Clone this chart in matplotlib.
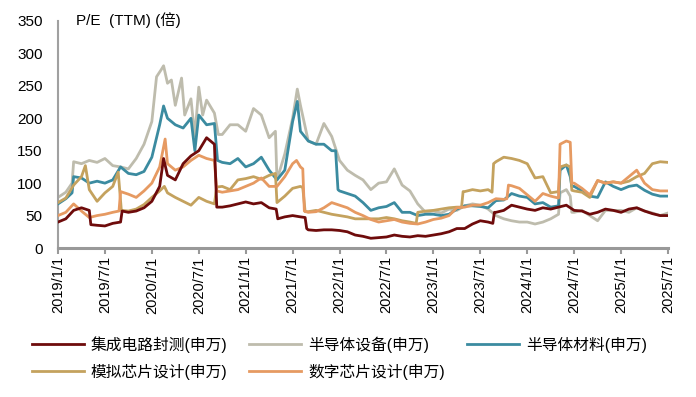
import matplotlib
matplotlib.use('Agg')
import matplotlib.pyplot as plt

plt.rcParams['font.family'] = ['Liberation Sans', 'Noto Sans CJK SC']

# x = months since 2019/1/1
tick_labels = ['2019/1/1', '2019/7/1', '2020/1/1', '2020/7/1', '2021/1/1', '2021/7/1', '2022/1/1',
               '2022/7/1', '2023/1/1', '2023/7/1', '2024/1/1', '2024/7/1', '2025/1/1', '2025/7/1']

red_t = [0, 1, 2, 3, 4, 4.2, 5, 6, 7, 8, 8.2, 9, 10, 11, 12, 13, 13.5, 14, 15, 16, 17, 18, 19, 20, 20.3,
         21, 22, 23, 24, 25, 26, 27, 27.9, 28.1, 29, 30, 31, 31.6, 31.8, 32, 33, 34, 35, 36, 37, 38, 39,
         40, 41, 42, 43, 44, 45, 46, 47, 48, 49, 50, 51, 52, 53, 54, 55, 55.6, 55.8, 56, 57, 58, 59, 60,
         61, 62, 63, 64, 65, 66, 67, 68, 69, 70, 71, 72, 73, 74, 75, 76, 77, 78]
red_v = [40, 45, 58, 62, 58, 36, 35, 34, 38, 40, 57, 55, 57, 62, 72, 95, 138, 112, 105, 130, 142, 150, 170, 160, 63,
         63, 65, 68, 71, 68, 70, 62, 60, 45, 48, 50, 48, 47, 30, 28, 27, 28, 28, 27, 25, 20, 18,
         15, 16, 17, 20, 18, 17, 19, 18, 20, 22, 25, 30, 30, 37, 42, 40, 38, 55, 55, 58, 66, 63, 60,
         58, 62, 60, 63, 66, 58, 57, 52, 55, 60, 58, 55, 60, 62, 57, 53, 50, 50]

gray_t = [0, 1, 1.8, 2, 3, 4, 5, 6, 7, 8, 9, 10, 11, 12, 12.6, 13.2, 13.5, 14, 14.5, 15, 15.8, 16.2, 17, 17.5,
          18, 18.5, 19, 20, 20.5, 21, 22, 23, 24, 25, 26, 27, 27.8, 28, 29, 30, 30.6, 31, 32, 33, 34, 35,
          36, 37, 38, 39, 40, 41, 42, 43, 44, 45, 46, 47, 48, 49, 50, 51, 52, 53, 54, 55, 56, 57, 58, 59,
          60, 61, 62, 63, 64, 64.2, 65, 65.5, 65.7, 66, 67, 68, 69, 70, 71, 72, 73, 74, 75, 76, 77, 78]
gray_v = [78, 86, 100, 133, 130, 135, 132, 138, 127, 125, 122, 138, 160, 195, 264, 275, 281, 254, 259, 220, 262, 205, 230, 172,
          248, 205, 228, 208, 175, 175, 190, 190, 180, 215, 205, 170, 180, 105, 145, 200, 245, 220, 165, 160, 192, 172,
          135, 120, 112, 105, 90, 100, 102, 122, 97, 88, 68, 55, 57, 54, 60, 58, 65, 68, 66, 60, 50, 45, 42, 40,
          40, 37, 40, 45, 52, 85, 90, 80, 55, 55, 58, 50, 42, 58, 58, 58, 55, 62, 57, 54, 50, 54]

teal_t = [0, 1, 1.8, 2, 3, 4, 5, 6, 7, 8, 9, 10, 11, 12, 13, 13.5, 14, 15, 16, 17, 17.5, 18, 19, 20, 20.4,
          21, 22, 23, 24, 25, 26, 27, 28, 29, 30, 30.6, 31, 32, 33, 34, 35, 35.5, 35.8, 36, 37, 38, 39,
          40, 41, 42, 43, 44, 45, 46, 47, 48, 49, 50, 51, 52, 53, 54, 55, 56, 57, 58, 59, 60, 61, 62, 63,
          64, 64.2, 65, 65.5, 65.7, 66, 67, 68, 69, 70, 71, 72, 73, 74, 75, 76, 77, 78]
teal_v = [68, 76, 85, 110, 108, 100, 103, 100, 105, 125, 115, 113, 118, 140, 190, 219, 200, 190, 185, 200, 150, 205, 190, 192, 135,
          132, 130, 138, 125, 130, 140, 120, 105, 120, 195, 226, 180, 165, 160, 160, 150, 150, 90, 88, 84, 80, 70,
          58, 62, 64, 70, 55, 55, 50, 52, 52, 50, 52, 60, 65, 65, 64, 62, 73, 74, 84, 80, 78, 68, 70, 63,
          65, 120, 128, 110, 95, 95, 88, 80, 78, 102, 95, 90, 95, 97, 89, 83, 80, 80]

gold_t = [0, 1, 2, 3, 3.5, 4, 5, 6, 7, 7.7, 8.1, 9, 10, 11, 12, 13, 13.6, 14, 15, 16, 17, 18, 19, 20, 20.3,
          21, 22, 23, 24, 25, 26, 27, 27.8, 28, 29, 30, 31, 31.3, 31.6, 32, 33, 34, 35, 36, 37, 38, 39,
          40, 41, 42, 43, 44, 45, 45.8, 46, 47, 48, 49, 50, 51, 51.6, 51.8, 52, 53, 54, 55, 55.5, 55.7, 56,
          57, 58, 59, 60, 61, 62, 63, 64, 64.2, 65, 65.5, 65.7, 66, 67, 68, 69, 70, 71, 72, 73, 74, 75, 76, 77, 78]
gold_v = [70, 77, 97, 110, 127, 90, 72, 85, 95, 117, 58, 57, 60, 67, 78, 88, 95, 85, 78, 72, 66, 78, 72, 68, 94,
          95, 90, 105, 107, 110, 106, 112, 115, 70, 80, 92, 95, 93, 56, 56, 58, 55, 52, 50, 48, 45, 45,
          45, 45, 47, 45, 42, 40, 38, 55, 57, 58, 60, 62, 63, 63, 87, 87, 90, 88, 90, 86, 130, 133,
          140, 138, 135, 130, 108, 110, 85, 87, 125, 128, 125, 89, 88, 86, 78, 104, 100, 102, 100, 103, 110, 115, 130, 133, 132]

orange_t = [0, 1, 2, 3, 4, 5, 6, 7, 7.8, 8, 9, 10, 11, 12, 13, 13.7, 14, 15, 16, 17, 18, 19, 20, 20.3,
            21, 22, 23, 24, 25, 26, 27, 28, 29, 30, 30.5, 31, 31.3, 31.5, 32, 33, 34, 35, 36, 37, 38, 39,
            40, 41, 42, 43, 44, 45, 46, 47, 48, 49, 50, 51, 52, 53, 54, 55, 56, 57, 57.4, 57.6, 58, 59,
            60, 61, 62, 63, 64, 64.2, 65, 65.5, 65.7, 66, 67, 68, 69, 70, 71, 72, 73, 74, 75, 76, 77, 78]
orange_v = [50, 55, 68, 57, 47, 50, 52, 55, 57, 87, 83, 78, 88, 100, 125, 168, 130, 120, 125, 135, 143, 138, 135, 88,
            86, 88, 90, 95, 100, 108, 95, 95, 110, 130, 135, 125, 122, 57, 55, 56, 62, 70, 66, 62, 55, 50,
            44, 40, 42, 44, 40, 38, 37, 40, 44, 46, 50, 62, 63, 66, 66, 70, 76, 75, 76, 97, 96, 92,
            82, 72, 84, 80, 77, 160, 165, 163, 100, 100, 92, 82, 104, 100, 102, 100, 110, 120, 100, 90, 88, 88]

names = ['集成电路封测(申万)', '半导体设备(申万)', '半导体材料(申万)', '模拟芯片设计(申万)', '数字芯片设计(申万)']
colors = ['#6E0B0B', '#BEBCAD', '#3B8BA0', '#C4A25E', '#E69A62']

fig = plt.figure(figsize=(6.96, 3.97), dpi=100)
ax = fig.add_axes([58 / 696, 1 - 248 / 397, 610 / 696, 227 / 397])

series = [(red_t, red_v), (gray_t, gray_v), (teal_t, teal_v), (gold_t, gold_v), (orange_t, orange_v)]
lines = []
for (t, v), c, n in zip(series, colors, names):
    ln, = ax.plot(t, v, color=c, lw=2.0, label=n)
    lines.append(ln)
# draw order: gray, teal, gold, orange, red
for z, i in enumerate([1, 2, 3, 4, 0]):
    lines[i].set_zorder(2 + z)

ax.set_xlim(0, 78)
ax.set_ylim(0, 350)
ax.set_xticks(range(0, 79, 6))
ax.set_xticklabels(tick_labels, rotation=90, fontsize=10.5)
ax.set_yticks(range(0, 351, 50))
ax.tick_params(axis='y', length=0, pad=11, labelsize=11)
ax.tick_params(axis='x', length=4, width=1.5, color='#999999', pad=2)

for s in ['top', 'right']:
    ax.spines[s].set_visible(False)
ax.spines['left'].set_color('#A0A0A0')
ax.spines['left'].set_linewidth(1.5)
ax.spines['bottom'].set_color('#999999')
ax.spines['bottom'].set_linewidth(2.2)

fig.text(76 / 696, 1 - 20 / 397, 'P/E  (TTM) (倍)', fontsize=11, va='center', ha='left')

# legend fills column by column -> reorder so rows read red, gray, teal / gold, orange
order = [0, 3, 1, 4, 2]
fig.legend(handles=[lines[i] for i in order], loc='upper left', bbox_to_anchor=(32 / 696, 1 - 336 / 397), ncol=3,
           frameon=False, fontsize=11.3, handlelength=3.3, handletextpad=0.45, columnspacing=1.4,
           labelspacing=0.7, borderpad=0, borderaxespad=0)

fig.savefig('out.png', dpi=100)
